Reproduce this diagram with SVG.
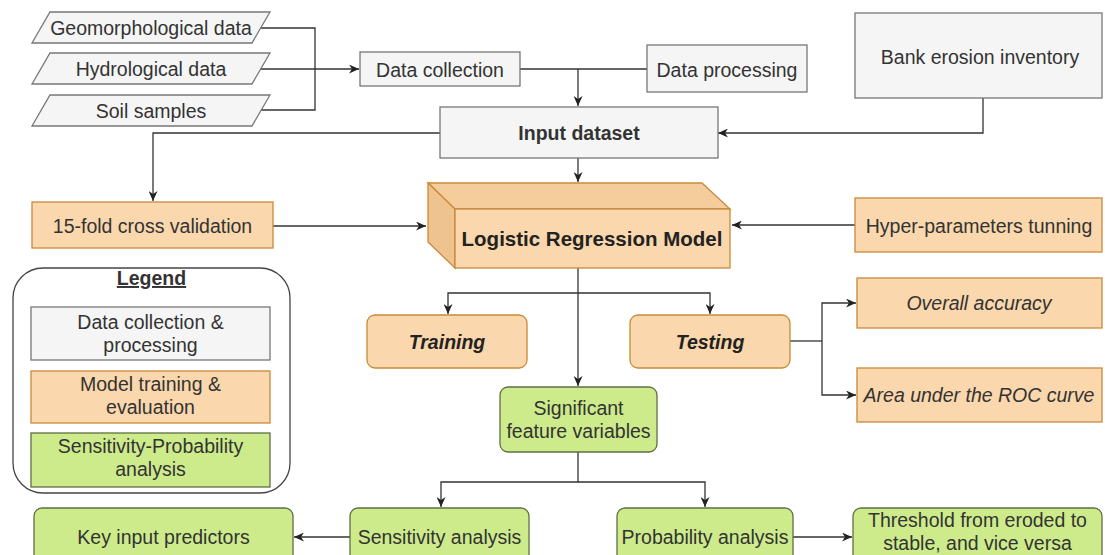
<svg xmlns="http://www.w3.org/2000/svg" width="1105" height="555" viewBox="0 0 1105 555">
  <style>
    text { font-family: "Liberation Sans", Arial, Helvetica, sans-serif; font-size: 19.5px; text-anchor: middle; fill: #333333; }
    .gray { fill: #f5f5f5; stroke: #777777; stroke-width: 1.3; }
    .orange { fill: #fad7ac; stroke: #c98a3a; stroke-width: 1.3; }
    .green { fill: #cdeb8b; stroke: #5f6f45; stroke-width: 1.3; }
    .b { font-weight: bold; }
    .i { font-style: italic; }
    .bi { font-weight: bold; font-style: italic; }
    .dark { fill: #222222; }
    .edge { fill: none; stroke: #333333; stroke-width: 1.3; }
    .arrow { marker-end: url(#arr); }
  </style>
  <defs>
    <marker id="arr" markerUnits="userSpaceOnUse" markerWidth="11" markerHeight="9" refX="10" refY="4.5" orient="auto">
      <path d="M0,0 L10,4.5 L0,9 L3,4.5 Z" fill="#222222"/>
    </marker>
  </defs>

  <rect width="1105" height="555" fill="#ffffff"/>

  <!-- connectors -->
  <g id="connectors">
    <path class="edge" d="M260,28 H315 V110 H259"/>
    <path class="edge arrow" d="M261,69 H359"/>
    <path class="edge" d="M520,69 H647"/>
    <path class="edge arrow" d="M578,69 V106"/>
    <path class="edge arrow" d="M983,98 V133 H718"/>
    <path class="edge arrow" d="M440,133 H153 V201"/>
    <path class="edge arrow" d="M578,158 V182"/>
    <path class="edge arrow" d="M273,226 H426"/>
    <path class="edge arrow" d="M855,225 H732"/>
    <path class="edge arrow" d="M578,268 V386"/>
    <path class="edge arrow" d="M578,293 H448 V314"/>
    <path class="edge arrow" d="M578,293 H710 V314"/>
    <path class="edge" d="M790,341 H822"/>
    <path class="edge arrow" d="M822,341 V303 H856"/>
    <path class="edge arrow" d="M822,341 V395 H856"/>
    <path class="edge arrow" d="M578,452 V482 H441 V507"/>
    <path class="edge arrow" d="M578,482 H705 V507"/>
    <path class="edge arrow" d="M350,537 H294"/>
    <path class="edge arrow" d="M793,537 H852"/>
  </g>

  <!-- data inputs -->
  <g id="geomorphological-data">
    <polygon class="gray" points="50,12 270,12 252,43 32,43"/>
    <text x="151" y="35">Geomorphological data</text>
  </g>
  <g id="hydrological-data">
    <polygon class="gray" points="50,53 270,53 252,84 32,84"/>
    <text x="151" y="76">Hydrological data</text>
  </g>
  <g id="soil-samples">
    <polygon class="gray" points="50,95 270,95 252,126 32,126"/>
    <text x="151" y="118">Soil samples</text>
  </g>

  <g id="data-collection">
    <rect class="gray" x="360" y="52" width="160" height="34"/>
    <text x="440" y="77">Data collection</text>
  </g>
  <g id="data-processing">
    <rect class="gray" x="647" y="45" width="160" height="47"/>
    <text x="727" y="77">Data processing</text>
  </g>
  <g id="bank-erosion-inventory">
    <rect class="gray" x="855" y="13" width="247" height="85"/>
    <text x="980" y="64">Bank erosion inventory</text>
  </g>
  <g id="input-dataset">
    <rect class="gray" x="440" y="107" width="278" height="51"/>
    <text class="b" x="579" y="140">Input dataset</text>
  </g>

  <!-- model stage -->
  <g id="cross-validation">
    <rect class="orange" x="32" y="202" width="241" height="46"/>
    <text x="152.5" y="233">15-fold cross validation</text>
  </g>
  <g id="logistic-regression-model">
    <polygon class="orange" points="428,183 702,183 730,209 455,209" style="fill:#f5cc9c"/>
    <polygon class="orange" points="428,183 455,209 455,268 428,242" style="fill:#efc38f"/>
    <rect class="orange" x="455" y="209" width="275" height="59"/>
    <text class="b dark" x="592" y="246" style="font-size:20.5px">Logistic Regression Model</text>
  </g>
  <g id="hyper-parameters">
    <rect class="orange" x="855" y="198" width="247" height="54"/>
    <text x="979" y="233">Hyper-parameters tunning</text>
  </g>
  <g id="training">
    <rect class="orange" x="367" y="315" width="160" height="53" rx="8"/>
    <text class="bi dark" x="447" y="349">Training</text>
  </g>
  <g id="testing">
    <rect class="orange" x="630" y="315" width="160" height="53" rx="8"/>
    <text class="bi dark" x="710" y="349">Testing</text>
  </g>
  <g id="overall-accuracy">
    <rect class="orange" x="857" y="278" width="245" height="50"/>
    <text class="i" x="979" y="310">Overall accuracy</text>
  </g>
  <g id="roc-area">
    <rect class="orange" x="857" y="368" width="245" height="54"/>
    <text class="i" x="979" y="402">Area under the ROC curve</text>
  </g>

  <!-- analysis stage -->
  <g id="significant-variables">
    <rect class="green" x="500" y="387" width="157" height="65" rx="8"/>
    <text x="578.5" y="415">Significant</text>
    <text x="578.5" y="438">feature variables</text>
  </g>
  <g id="key-input-predictors">
    <rect class="green" x="34" y="508" width="259" height="60" rx="8"/>
    <text x="163.5" y="544">Key input predictors</text>
  </g>
  <g id="sensitivity-analysis">
    <rect class="green" x="350" y="508" width="179" height="60" rx="8"/>
    <text x="439.5" y="544">Sensitivity analysis</text>
  </g>
  <g id="probability-analysis">
    <rect class="green" x="617" y="508" width="176" height="60" rx="8"/>
    <text x="705" y="544">Probability analysis</text>
  </g>
  <g id="threshold">
    <rect class="green" x="853" y="508" width="249" height="60" rx="8"/>
    <text x="977.5" y="527">Threshold from eroded to</text>
    <text x="977.5" y="550">stable, and vice versa</text>
  </g>

  <!-- legend -->
  <g id="legend">
    <rect x="13" y="268" width="277" height="225" rx="30" fill="#ffffff" stroke="#444444" stroke-width="1.3"/>
    <text class="b" x="151.5" y="285" text-decoration="underline">Legend</text>
    <rect class="gray" x="31" y="307" width="239" height="53"/>
    <text x="150.5" y="329">Data collection &amp;</text>
    <text x="150.5" y="352">processing</text>
    <rect class="orange" x="31" y="371" width="239" height="52"/>
    <text x="150.5" y="391">Model training &amp;</text>
    <text x="150.5" y="414">evaluation</text>
    <rect class="green" x="31" y="433" width="239" height="54"/>
    <text x="150.5" y="453">Sensitivity-Probability</text>
    <text x="150.5" y="476">analysis</text>
  </g>
</svg>
